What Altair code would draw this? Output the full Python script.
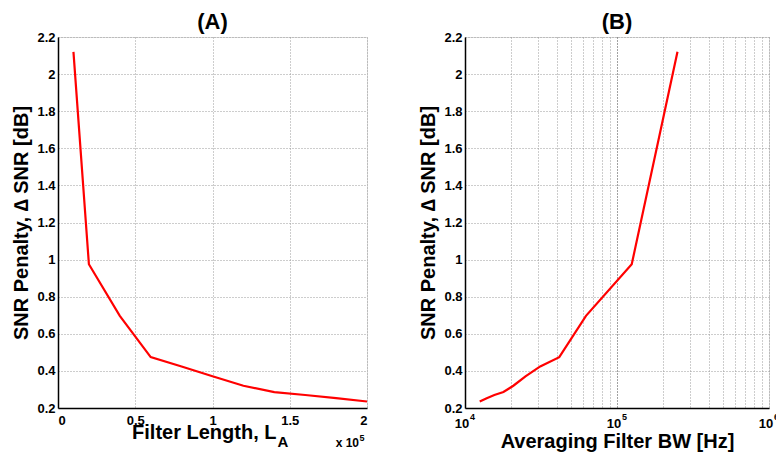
import altair as alt
import pandas as pd

# ---- data ----
filter_length = [1e4, 2e4, 4e4, 6e4, 8e4, 1e5, 1.2e5, 1.4e5, 1.6e5, 1.8e5, 2e5]
filter_bw = [2.5e5, 1.25e5, 6.25e4, 4.17e4, 3.125e4, 2.5e4, 2.08e4, 1.79e4, 1.56e4, 1.39e4, 1.25e4]
snr_penalty = [2.12, 0.975, 0.697, 0.474, 0.424, 0.371, 0.32, 0.286, 0.27, 0.253, 0.235]

y_ticks = [0.2, 0.4, 0.6, 0.8, 1.0, 1.2, 1.4, 1.6, 1.8, 2.0, 2.2]
x_ticks_a = [0, 5e4, 1e5, 1.5e5, 2e5]
x_ticks_b = [1e4, 2e4, 3e4, 4e4, 5e4, 6e4, 7e4, 8e4, 9e4,
             1e5, 2e5, 3e5, 4e5, 5e5, 6e5, 7e5, 8e5, 9e5, 1e6]
decades_b = [1e4, 1e5, 1e6]
decade_base = ["10", "10", "10"]
decade_exp = ["4", "5", "6"]

FONT = "Liberation Sans"
df = pd.DataFrame({"L": filter_length, "BW": filter_bw, "snr": snr_penalty})
dec_df = pd.DataFrame({"BW": decades_b, "base": decade_base, "exp": decade_exp})

grid_common = dict(grid=True, gridColor="#9a9a9a", gridDash=[1, 2], gridWidth=1,
                   ticks=False, tickSize=0, domainColor="black", domainWidth=1.5,
                   labelFont=FONT, labelFontSize=13, labelFontWeight="bold", labelColor="black",
                   titleFont=FONT, titleFontSize=20, titleFontWeight="bold", titleColor="black")

y_axis = alt.Axis(values=y_ticks, format="~g", title="SNR Penalty, \u2206 SNR [dB]",
                  labelPadding=3, titleX=-31, titleBaseline="alphabetic", **grid_common)
y_enc = alt.Y("snr:Q", scale=alt.Scale(domain=[0.2, 2.2], nice=False, zero=False), axis=y_axis)

W_A, W_B, H = 309, 304, 371

line_a = alt.Chart(df).mark_line(color="#ff0000", strokeWidth=2.2).encode(
    x=alt.X("L:Q", scale=alt.Scale(domain=[0, 2e5], nice=False),
            axis=alt.Axis(values=x_ticks_a, labelExpr="format(datum.value/100000, '~g')",
                          title="Filter Length, L", titleX=218, titleAlign="right",
                          titleY=30, titleBaseline="alphabetic", labelPadding=6, **grid_common)),
    y=y_enc,
)
txt = dict(font=FONT, fontWeight="bold", baseline="alphabetic", color="black")
sub_a = alt.Chart(pd.DataFrame({"t": ["A"]})).mark_text(fontSize=15, align="left", **txt).encode(
    x=alt.value(219.5), y=alt.value(410), text="t:N")
exp_a = alt.Chart(pd.DataFrame({"t": ["x 10"]})).mark_text(fontSize=12, align="right", **txt).encode(
    x=alt.value(301), y=alt.value(410), text="t:N")
exp_a2 = alt.Chart(pd.DataFrame({"t": ["5"]})).mark_text(fontSize=9, align="left", **txt).encode(
    x=alt.value(301.5), y=alt.value(404), text="t:N")

title_kw = dict(font=FONT, fontSize=22, fontWeight="bold", color="black", offset=-3)

panel_a = alt.layer(line_a, sub_a, exp_a, exp_a2).properties(
    width=W_A, height=H, title=alt.TitleParams("(A)", **title_kw))

grid_b = dict(grid_common)
grid_b["gridColor"] = {"condition": {"test": "datum.value == 100000", "value": "#444444"}, "value": "#9a9a9a"}

x_b = alt.X("BW:Q", scale=alt.Scale(type="log", domain=[1e4, 1e6], nice=False),
            axis=alt.Axis(values=x_ticks_b, labels=False,
                          title="Averaging Filter BW [Hz]", titleY=39, titleBaseline="alphabetic",
                          **grid_b))
line_b = alt.Chart(df).mark_line(color="#ff0000", strokeWidth=2.2).encode(x=x_b, y=y_enc)
base_b = alt.Chart(dec_df).mark_text(fontSize=13, align="center", dx=-3, **txt).encode(
    x=alt.X("BW:Q", scale=alt.Scale(type="log", domain=[1e4, 1e6], nice=False)),
    y=alt.value(H + 20), text="base:N")
exp_b = alt.Chart(dec_df).mark_text(fontSize=9, align="left", dx=5, **txt).encode(
    x=alt.X("BW:Q", scale=alt.Scale(type="log", domain=[1e4, 1e6], nice=False)),
    y=alt.value(H + 12), text="exp:N")

panel_b = alt.layer(line_b, base_b, exp_b).properties(
    width=W_B, height=H, title=alt.TitleParams("(B)", **title_kw))

chart = alt.hconcat(panel_a, panel_b, spacing=98, bounds="flush").properties(
    autosize=alt.AutoSizeParams(type="none"),
    padding={"left": 50, "top": 29, "right": 718, "bottom": 410},
).configure_view(stroke="black", strokeWidth=1.8).configure(background="white")

chart.save("out.html", embed_options={"renderer": "svg", "actions": False})
